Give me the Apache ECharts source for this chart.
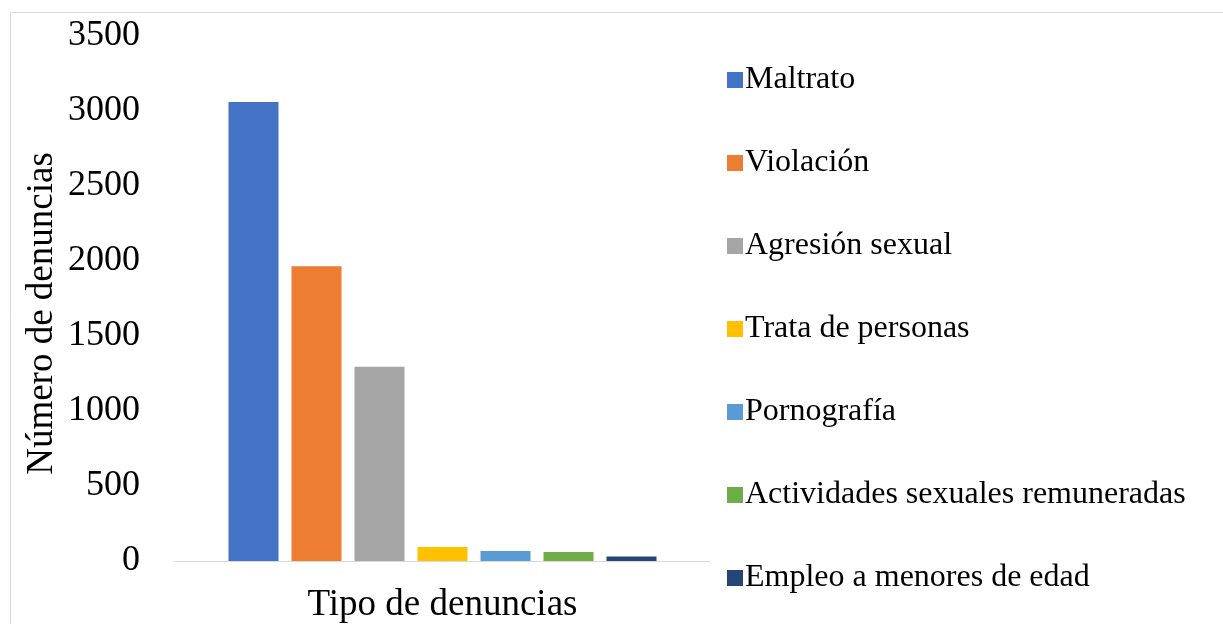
<!DOCTYPE html>
<html>
<head>
<meta charset="utf-8">
<script src="https://cdn.jsdelivr.net/npm/echarts@6/dist/echarts.min.js"></script>
<style>
  html, body { margin: 0; padding: 0; background: #fff; }
  #main { width: 1223px; height: 624px; }
</style>
</head>
<body>
<div id="main"></div>
<script>
var categories = ['Tipo de denuncias'];
var seriesNames = ['Maltrato', 'Violación', 'Agresión sexual', 'Trata de personas', 'Pornografía', 'Actividades sexuales remuneradas', 'Empleo a menores de edad'];
var seriesValues = [3060, 1965, 1295, 93, 66, 60, 30];
var colors = ['#4472c4', '#ed7d31', '#a5a5a5', '#ffc000', '#5b9bd5', '#70ad47', '#264478'];

var font = '"Liberation Serif", "Times New Roman", serif';
var myChart = echarts.init(document.getElementById('main'), null, { renderer: 'canvas' });

var series = seriesNames.map(function (name, i) {
  return {
    name: name,
    type: 'bar',
    data: [seriesValues[i]],
    barWidth: 50,
    barGap: '26%',
    itemStyle: { color: colors[i] }
  };
});

var option = {
  backgroundColor: '#fff',
  animation: false,
  graphic: [{
    type: 'rect',
    shape: { x: 10.5, y: 12.5, width: 1240, height: 640 },
    style: { fill: 'none', stroke: '#d9d9d9', lineWidth: 1 },
    z: -1
  }],
  grid: { left: 175, right: 513, top: 36, bottom: 61 },
  legend: {
    orient: 'vertical',
    left: 722,
    top: 59,
    itemWidth: 16,
    itemHeight: 16,
    itemGap: 51,
    icon: 'rect',
    textStyle: { fontFamily: font, fontSize: 32, color: '#000', padding: [0, 0, 0, -3] },
    data: seriesNames
  },
  xAxis: {
    type: 'category',
    data: categories,
    axisLine: { lineStyle: { color: '#d9d9d9', width: 1 } },
    axisTick: { show: false },
    axisLabel: {
      fontFamily: font, fontSize: 37, color: '#000', margin: 26
    }
  },
  yAxis: {
    type: 'value',
    min: 0,
    max: 3500,
    interval: 500,
    name: 'Número de denuncias',
    nameLocation: 'middle',
    nameGap: 114,
    nameTextStyle: { fontFamily: font, fontSize: 37, color: '#000', padding: [0, 30, 0, 0] },
    axisLine: { show: false },
    axisTick: { show: false },
    splitLine: { show: false },
    axisLabel: {
      fontFamily: font, fontSize: 36, color: '#000', margin: 35,
      formatter: function (v) { return String(v); }
    }
  },
  series: series
};

myChart.setOption(option);
window.addEventListener('resize', myChart.resize);
</script>
</body>
</html>
